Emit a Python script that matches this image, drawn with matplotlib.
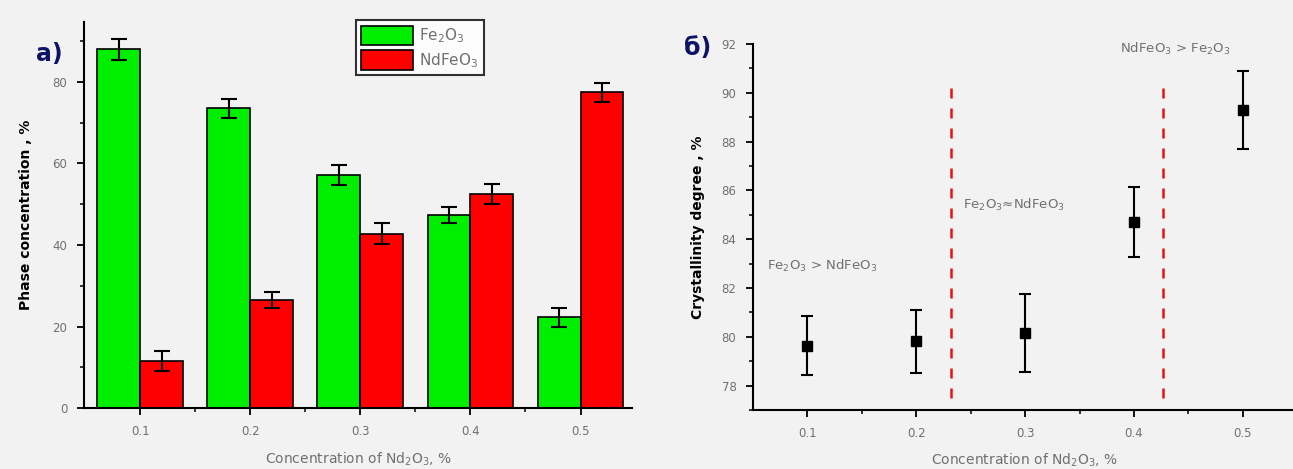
import numpy as np
import matplotlib
matplotlib.use('Agg')
import matplotlib.pyplot as plt
from matplotlib.ticker import MultipleLocator, FixedLocator

# a) phase concentration
conc = [0.1, 0.2, 0.3, 0.4, 0.5]
fe2o3 = [88.0, 73.5, 57.2, 47.4, 22.3]
fe2o3_err = [2.5, 2.3, 2.5, 2.0, 2.3]
ndfeo3 = [11.6, 26.5, 42.8, 52.5, 77.5]
ndfeo3_err = [2.5, 2.0, 2.5, 2.5, 2.3]

# б) crystallinity degree
cryst = [79.64, 79.81, 80.14, 84.70, 89.28]
cryst_err = [1.22, 1.30, 1.60, 1.43, 1.60]
borders = [0.232, 0.427]
zone_labels = ['Fe$_2$O$_3$ > NdFeO$_3$', 'Fe$_2$O$_3$≈NdFeO$_3$', 'NdFeO$_3$ > Fe$_2$O$_3$']
zone_pos = [(0.063, 82.9), (0.243, 85.4), (0.387, 91.8)]

bg = '#f2f2f2'
grey = '#707070'
navy = '#0d1466'

plt.rcParams['font.family'] = ['DejaVu Sans']
plt.rcParams['mathtext.default'] = 'regular'

fig = plt.figure(figsize=(12.93, 4.69), dpi=100, facecolor=bg)

ax1 = fig.add_axes([0.065, 0.130, 0.424, 0.823], facecolor=bg)
x = np.array(conc)
w = 0.039
ax1.bar(x - w / 2, fe2o3, w, color='#00ee00', edgecolor='black', linewidth=1.2,
        yerr=fe2o3_err, capsize=6, error_kw=dict(elinewidth=1.5, capthick=1.5),
        label='Fe$_2$O$_3$')
ax1.bar(x + w / 2, ndfeo3, w, color='#ff0000', edgecolor='black', linewidth=1.2,
        yerr=ndfeo3_err, capsize=6, error_kw=dict(elinewidth=1.5, capthick=1.5),
        label='NdFeO$_3$')
ax1.set_xlim(0.049, 0.547)
ax1.set_ylim(0, 94.7)
ax1.set_xticks(conc)
ax1.set_xticklabels([str(c) for c in conc])
ax1.xaxis.set_minor_locator(FixedLocator([0.15, 0.25, 0.35, 0.45]))
ax1.yaxis.set_major_locator(MultipleLocator(20))
ax1.yaxis.set_minor_locator(MultipleLocator(10))
ax1.set_ylabel('Phase concentration , %', fontsize=10, fontweight='bold', labelpad=14)
ax1.set_xlabel('Concentration of Nd$_2$O$_3$, %', fontsize=10, color=grey, labelpad=9)
leg = ax1.legend(loc='upper left', bbox_to_anchor=(0.49, 1.012), frameon=True,
                 fancybox=False, edgecolor='black', fontsize=11, handlelength=3.4,
                 handleheight=1.6, labelcolor=grey, borderpad=0.35,
                 handletextpad=0.4, labelspacing=0.3, borderaxespad=0.2)
leg.get_frame().set_linewidth(1.5)
ax1.text(-0.088, 0.9, 'a)', transform=ax1.transAxes, fontsize=17,
         fontweight='bold', color=navy)

ax2 = fig.add_axes([0.5824, 0.126, 0.42, 0.78], facecolor=bg)
ax2.errorbar(conc, cryst, yerr=cryst_err, fmt='s', color='black', markersize=7,
             capsize=4, elinewidth=1.5, capthick=1.5)
for b in borders:
    ax2.plot([b, b], [77.5, 90.45], color='#ee1111', linestyle=(0, (4, 4)), linewidth=1.8)
for lab, (tx, ty) in zip(zone_labels, zone_pos):
    ax2.text(tx, ty, lab, fontsize=9.5, color=grey, va='center')
ax2.set_xlim(0.05, 0.549)
ax2.set_ylim(77.0, 92.0)
ax2.set_xticks(conc)
ax2.set_xticklabels([str(c) for c in conc])
ax2.xaxis.set_minor_locator(FixedLocator([0.15, 0.25, 0.35, 0.45]))
ax2.set_yticks([78, 80, 82, 84, 86, 88, 90, 92])
ax2.yaxis.set_minor_locator(MultipleLocator(1))
ax2.set_ylabel('Crystallinity degree , %', fontsize=10, fontweight='bold', labelpad=12)
ax2.set_xlabel('Concentration of Nd$_2$O$_3$, %', fontsize=10, color=grey, labelpad=9)
ax2.text(-0.128, 0.97, 'б)', transform=ax2.transAxes, fontsize=17,
         fontweight='bold', color=navy)

for ax in (ax1, ax2):
    ax.spines['top'].set_visible(False)
    ax.spines['right'].set_visible(False)
    ax.spines['left'].set_linewidth(1.5)
    ax.spines['bottom'].set_linewidth(1.5)
    ax.tick_params(which='major', direction='out', length=5, width=1.3,
                   labelsize=8.5, labelcolor=grey, pad=7)
    ax.tick_params(which='minor', direction='out', length=3, width=1.1)

fig.savefig('out.png', dpi=100, facecolor=bg)
